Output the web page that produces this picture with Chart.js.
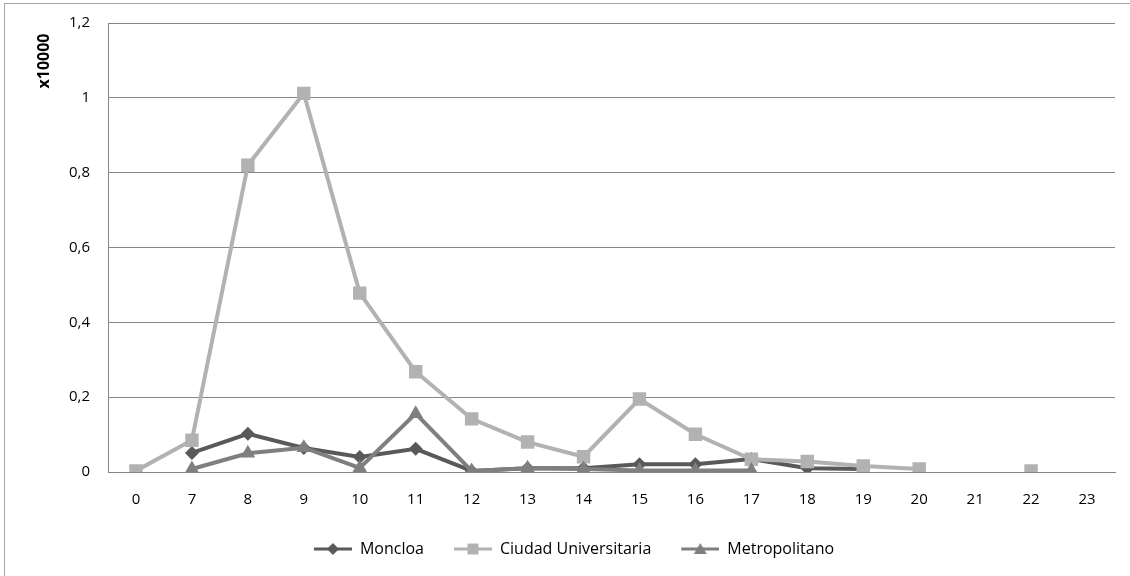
<!DOCTYPE html>
<html>
<head>
<meta charset="utf-8">
<title>Usuarios por hora</title>
<script src="https://cdn.jsdelivr.net/npm/chart.js@4.4.0/dist/chart.umd.min.js"></script>
<style>
  html, body { margin: 0; padding: 0; background: #fff; }
  #wrap { position: relative; width: 1130px; height: 576px; overflow: hidden; }
  #frame { position: absolute; left: 4px; top: 3px; width: 1140px; height: 600px; border: 1px solid #a6a6a6; }
  #chart { position: absolute; left: 0; top: 0; }
</style>
</head>
<body>
<div id="wrap">
  <div id="frame"></div>
  <canvas id="chart" width="1130" height="576"></canvas>
</div>
<script>
/* -------------------------------------------------------
   DATA (values in units of 10000)
------------------------------------------------------- */
const hours = ['0', '7', '8', '9', '10', '11', '12', '13', '14', '15', '16', '17', '18', '19', '20', '21', '22', '23'];

const moncloa = [null, 0.051, 0.102, 0.064, 0.040, 0.062, 0.003, 0.010, 0.010, 0.021, 0.021, 0.035, 0.010, 0.008, null, null, null, null];
const ciudadUniversitaria = [0.003, 0.085, 0.820, 1.012, 0.478, 0.268, 0.142, 0.080, 0.041, 0.195, 0.101, 0.034, 0.028, 0.016, 0.008, null, 0.003, null];
const metropolitano = [null, 0.008, 0.050, 0.065, 0.011, 0.156, 0.003, 0.010, 0.008, 0.004, 0.004, 0.004, null, null, null, null, null, null];

const yTicks = [0, 0.2, 0.4, 0.6, 0.8, 1, 1.2];
const yTickLabels = ['0', '0,2', '0,4', '0,6', '0,8', '1', '1,2'];
const yTitle = 'x10000';

/* -------------------------------------------------------
   STYLE
------------------------------------------------------- */
const FONT = "'Open Sans', sans-serif";
const gridColor = '#868686';
const series = [
    { label: 'Moncloa', data: moncloa, color: '#595959', style: 'rectRot', radius: 7, order: 3 },
    { label: 'Ciudad Universitaria', data: ciudadUniversitaria, color: '#b2b2b2', style: 'rect', radius: 9.5, order: 2 },
    { label: 'Metropolitano', data: metropolitano, color: '#7f7f7f', style: 'triangle', radius: 8.5, order: 1 },
];

// legend icon: short line with the marker in the middle, drawn at the right of the box
function legendIcon(s) {
    const c = document.createElement('canvas');
    c.width = 56; c.height = 16;
    const g = c.getContext('2d');
    const cx = 37, cy = 8;
    g.strokeStyle = s.color;
    g.lineWidth = 3;
    g.beginPath(); g.moveTo(18, cy); g.lineTo(56, cy); g.stroke();
    g.fillStyle = s.color;
    g.beginPath();
    if (s.style === 'rect') {
        g.rect(cx - 5.5, cy - 5.5, 11, 11);
    } else if (s.style === 'rectRot') {
        g.moveTo(cx, cy - 6); g.lineTo(cx + 6, cy); g.lineTo(cx, cy + 6); g.lineTo(cx - 6, cy);
    } else {
        g.moveTo(cx, cy - 6); g.lineTo(cx + 6.5, cy + 5); g.lineTo(cx - 6.5, cy + 5);
    }
    g.closePath(); g.fill();
    return c;
}

const yTitlePlugin = {
    id: 'yTitle',
    afterDraw(chart) {
        const ctx = chart.ctx;
        ctx.save();
        ctx.translate(44, 61);
        ctx.rotate(-Math.PI / 2);
        ctx.font = "bold 16px " + FONT;
        ctx.fillStyle = '#000';
        ctx.textAlign = 'center';
        ctx.textBaseline = 'middle';
        ctx.fillText(yTitle, 0, 0);
        ctx.restore();
    }
};

new Chart(document.getElementById('chart'), {
    type: 'line',
    data: {
        labels: hours,
        datasets: series.map(s => ({
            label: s.label,
            data: s.data,
            order: s.order,
            borderColor: s.color,
            backgroundColor: s.color,
            borderWidth: 4,
            tension: 0,
            spanGaps: false,
            pointStyle: s.style,
            pointRadius: s.radius,
            pointBackgroundColor: s.color,
            pointBorderColor: s.color,
            pointBorderWidth: 0,
        })),
    },
    options: {
        responsive: false,
        animation: false,
        devicePixelRatio: 1,
        layout: { padding: { top: 23, right: 15, bottom: 9, left: 15 } },
        plugins: {
            tooltip: { enabled: false },
            title: { display: false },
            legend: {
                position: 'bottom',
                labels: {
                    font: { family: FONT, size: 16 },
                    color: '#000',
                    usePointStyle: true,
                    pointStyleWidth: 56,
                    padding: 12,
                    generateLabels(chart) {
                        return series.map((s, i) => ({
                            text: s.label,
                            datasetIndex: i,
                            pointStyle: legendIcon(s),
                            fillStyle: s.color,
                            strokeStyle: s.color,
                            lineWidth: 0,
                            fontColor: '#000',
                            hidden: false,
                        }));
                    },
                },
            },
        },
        scales: {
            x: {
                offset: true,
                grid: { display: false, drawTicks: false, offset: true },
                border: { display: true, color: gridColor, width: 1 },
                ticks: { color: '#000', font: { family: FONT, size: 15 }, padding: 19, maxRotation: 0, autoSkip: false },
                afterFit(scale) { scale.height = 57; },
            },
            y: {
                min: 0,
                max: 1.2,
                afterBuildTicks(scale) { scale.ticks = yTicks.map(v => ({ value: v })); },
                grid: { color: gridColor, lineWidth: 1, drawTicks: false },
                border: { display: true, color: gridColor, width: 1 },
                ticks: {
                    color: '#000',
                    font: { family: FONT, size: 15 },
                    padding: 18,
                    callback: (v, i) => yTickLabels[i],
                },
                afterFit(scale) {
                    scale.width = 93;
                    scale.paddingTop = 0;
                    scale.paddingBottom = 0;
                },
            },
        },
    },
    plugins: [yTitlePlugin],
});
</script>
</body>
</html>
